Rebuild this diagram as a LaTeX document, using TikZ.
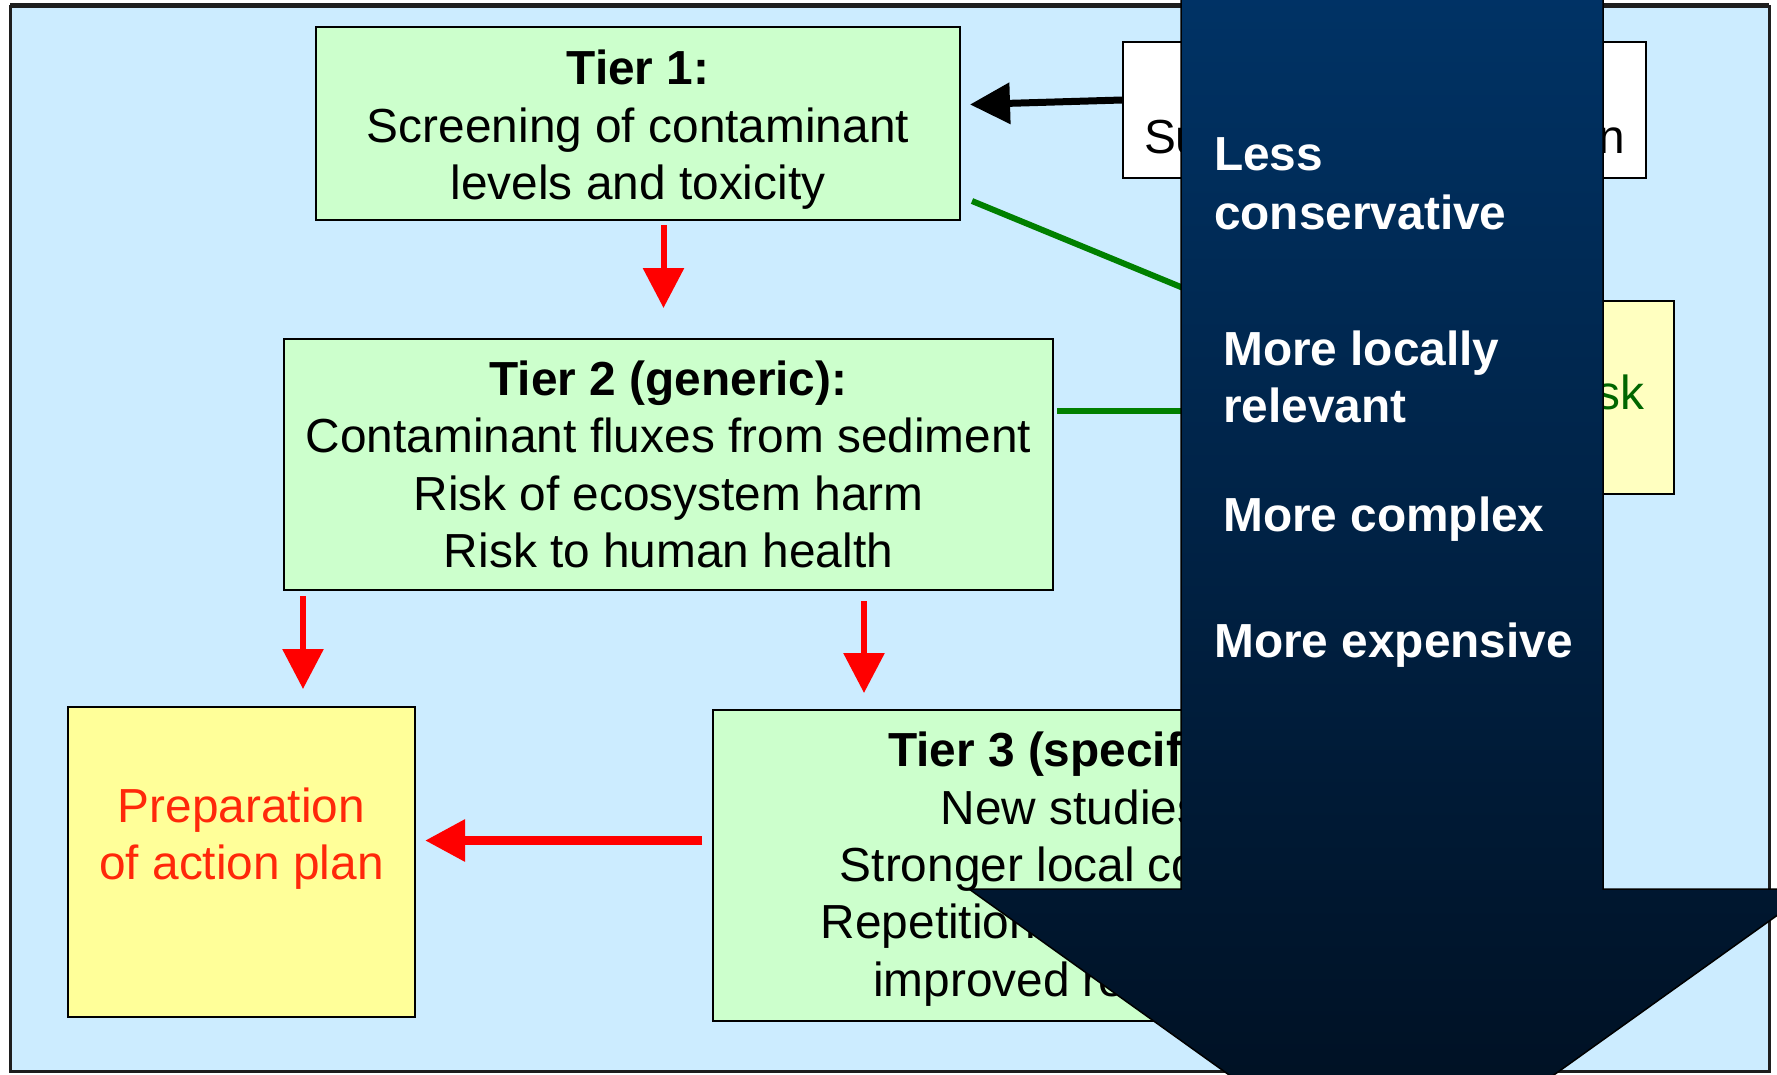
\documentclass[tikz,border=0pt]{standalone}
\usepackage{fontspec}
\setmainfont{Liberation Sans}
\usetikzlibrary{arrows.meta}

\definecolor{panelblue}{RGB}{204,236,255}
\definecolor{tiergreen}{RGB}{204,255,204}
\definecolor{planyellow}{RGB}{255,255,153}
\definecolor{riskyellow}{RGB}{255,255,192}
\definecolor{plantext}{RGB}{255,40,10}
\definecolor{risktext}{RGB}{0,102,0}
\definecolor{linkgreen}{RGB}{0,128,0}
\definecolor{navytop}{RGB}{0,51,102}
\definecolor{navybottom}{RGB}{0,14,30}
\definecolor{framegray}{RGB}{30,30,30}

\begin{document}
\begin{tikzpicture}[x=1pt, y=-1pt,
    box/.style={draw=black, line width=2pt, align=center, inner sep=0pt,
        font=\fontsize{47.8pt}{57.3pt}\selectfont},
    tierbox/.style={box, fill=tiergreen},
    redarrow/.style={-{Triangle[length=40pt,width=40pt]}, red, line width=6pt},
    greenlink/.style={-{Triangle[length=40pt,width=40pt]}, linkgreen, line width=6pt},
    infoarrow/.style={-{Triangle[length=40pt,width=40pt]}, black, line width=7pt},
    scaletext/.style={white, inner sep=0pt, anchor=base west,
        font=\fontsize{47.8pt}{57.3pt}\selectfont\bfseries}]

    % page and panel
    \useasboundingbox (0,0) rectangle (1777,1074);
    \clip (0,0) rectangle (1777,1074);
    \fill[white] (0,0) rectangle (1777,1074);
    \draw[line width=3pt, framegray, fill=panelblue] (10,6) rectangle (1769,1071);
    \draw[line width=5pt, framegray] (10,5) -- (1769,5);

    % boxes
    \node[tierbox, minimum width=644pt, minimum height=193pt] (tier1) at (638,123.5)
        {\rule{0pt}{47pt}\textbf{Tier 1:}\\Screening of contaminant\\levels and toxicity};
    \node[tierbox, minimum width=769pt, minimum height=251pt] (tier2) at (668.5,464.5)
        {\textbf{Tier 2 (generic):}\\Contaminant fluxes from sediment\\Risk of ecosystem harm\\Risk to human health};
    \node[tierbox, minimum width=716pt, minimum height=311pt] (tier3) at (1071,865.5)
        {\rule{0pt}{42pt}\textbf{Tier 3 (specific):}\\New studies\\Stronger local context\\Repetition of Tier 2 with\\improved reliability};
    \node[box, fill=planyellow, text=plantext, minimum width=347pt, minimum height=310pt] (plan) at (241.5,862)
        {Preparation\\of action plan\\\mbox{}};
    \node[box, fill=white, minimum width=523pt, minimum height=136pt] (info) at (1384.5,110)
        {\strut\\Supporting information};
    \node[box, fill=riskyellow, text=risktext, minimum width=384pt, minimum height=193pt] (risk) at (1482,397.5)
        {Acceptable risk};

    % black arrow into tier 1
    \draw[infoarrow] ([yshift=10pt]info.west) -- ([xshift=9pt,yshift=19pt]tier1.east);

    % red arrows between the tiers
    \coordinate (t2top) at ([xshift=-5pt]tier2.north);
    \coordinate (plantop) at ([xshift=61.5pt]plan.north);
    \coordinate (t3top) at ([xshift=152pt]tier3.north west);
    \coordinate (t3side) at ([yshift=25pt]tier3.west);
    \draw[redarrow, shorten <=4pt, shorten >=30pt] (t2top |- tier1.south) -- (t2top);
    \draw[redarrow, shorten <=5pt, shorten >=17pt] (plantop |- tier2.south) -- (plantop);
    \draw[redarrow, shorten <=10pt, shorten >=16pt] (t3top |- tier2.south) -- (t3top);
    \draw[redarrow, line width=9pt, shorten <=10pt, shorten >=9pt] (t3side) -- (t3side -| plan.east);

    % green links to the risk box
    \coordinate (t1corner) at ([xshift=11pt,yshift=20pt]tier1.south east);
    \coordinate (t2link) at ([xshift=3pt,yshift=54pt]tier2.east);
    \draw[greenlink] (t1corner) -- ([yshift=66pt]risk.west);
    \draw[greenlink] (t2link) -- (t2link -| risk.west);

    % big shaded arrow on top
    \draw[line width=1.5pt, black, top color=navytop, bottom color=navybottom]
        (1181,-20) -- (1181,889) -- (969,889) -- (1391.5,1191)
        -- (1814,889) -- (1603,889) -- (1603,-20) -- cycle;

    \foreach \word/\px/\py [count=\i] in {Less/1214/170, conservative/1214/229,
            More locally/1223/365, relevant/1223/422,
            More complex/1223/531, More expensive/1214/657}
        \node[scaletext] (scale\i) at (\px,\py) {\word};
\end{tikzpicture}
\end{document}
